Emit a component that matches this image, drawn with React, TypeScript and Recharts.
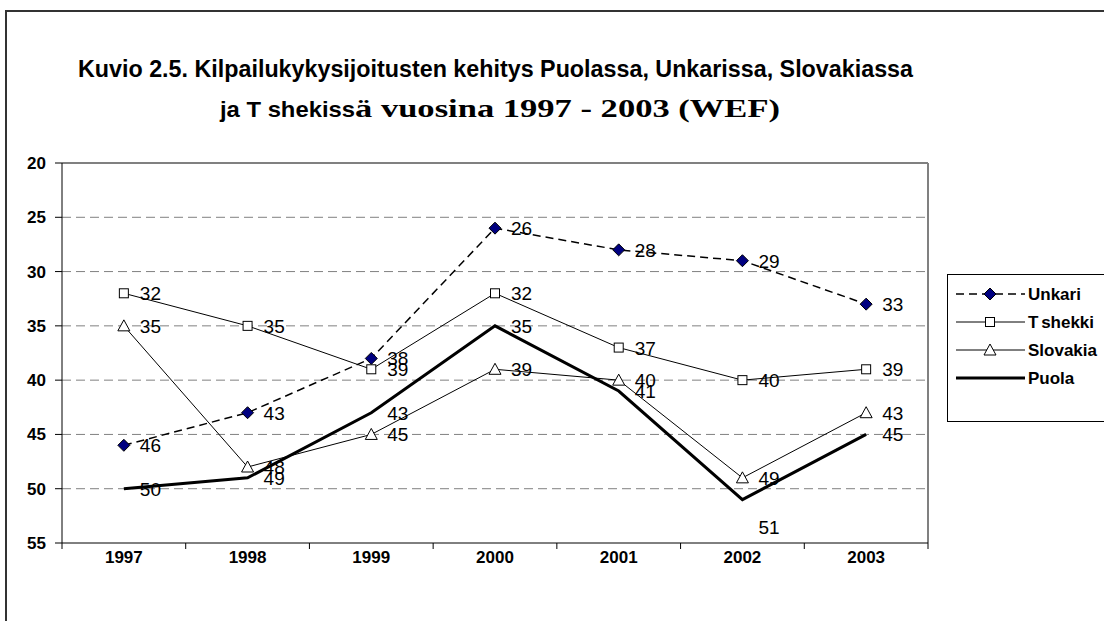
import React from 'react'
import { LineChart, Line, XAxis, YAxis, ReferenceLine, LabelList } from 'recharts'

// WEF competitiveness rankings 1997-2003 (lower is better, so the axis runs top-down)
const YEARS = ['1997', '1998', '1999', '2000', '2001', '2002', '2003']
const UNKARI = [46, 43, 38, 26, 28, 29, 33]
const TSHEKKI = [32, 35, 39, 32, 37, 40, 39]
const SLOVAKIA = [35, 48, 45, 39, 40, 49, 43]
const PUOLA = [50, 49, 43, 35, 41, 51, 45]
const Y_TICKS = [20, 25, 30, 35, 40, 45, 50, 55]
const GRID_VALUES = [25, 30, 35, 40, 45, 50]

const DATA = YEARS.map((year, i) => ({
  x: i + 0.5,
  year,
  unkari: UNKARI[i],
  tshekki: TSHEKKI[i],
  slovakia: SLOVAKIA[i],
  puola: PUOLA[i],
}))

const FONT = '"Liberation Sans", Arial, sans-serif'
const SERIF = '"Liberation Serif", "Times New Roman", serif'
const W = 1104
const H = 621
const MARGIN = { top: 163, right: 176, bottom: 48, left: 0 }
const Y_AXIS_W = 62
const STEP = (W - MARGIN.left - MARGIN.right - Y_AXIS_W) / YEARS.length

const Diamond = ({ cx, cy }: any) => (
  <polygon
    points={`${cx},${cy - 6} ${cx + 6},${cy} ${cx},${cy + 6} ${cx - 6},${cy}`}
    fill="#000080"
    stroke="#000"
    strokeWidth={1}
  />
)
const Square = ({ cx, cy }: any) => (
  <rect x={cx - 4.5} y={cy - 4.5} width={9} height={9} fill="#fff" stroke="#000" strokeWidth={1} />
)
const Triangle = ({ cx, cy }: any) => (
  <polygon
    points={`${cx},${cy - 6} ${cx + 6},${cy + 5} ${cx - 6},${cy + 5}`}
    fill="#fff"
    stroke="#000"
    strokeWidth={1}
  />
)

const makeLabel = (series: string) => (props: any) => {
  const { x, y, value, index } = props
  // Excel pushed the 2002 Puola label below the line
  const dy = series === 'puola' && index === 5 ? 34 : 7
  return (
    <text x={x + 16} y={y + dy} fontFamily={FONT} fontSize={19} fill="#000">
      {value}
    </text>
  )
}

const YearTick = ({ x, y, payload }: any) => {
  if (payload.value >= YEARS.length) return null
  return (
    <text
      x={x + STEP / 2}
      y={y}
      dy="0.71em"
      textAnchor="middle"
      fontFamily={FONT}
      fontWeight="bold"
      fontSize={17}
      fill="#000"
    >
      {YEARS[payload.value]}
    </text>
  )
}

const LEGEND = [
  { name: 'Unkari', dash: '8 5', width: 1.5, marker: 'diamond' },
  { name: 'Tshekki', dash: undefined, width: 1, marker: 'square' },
  { name: 'Slovakia', dash: undefined, width: 1, marker: 'triangle' },
  { name: 'Puola', dash: undefined, width: 3, marker: 'none' },
]

function LegendBox() {
  return (
    <svg
      width={200}
      height={150}
      style={{ position: 'absolute', left: 947, top: 274, overflow: 'visible' }}
    >
      <rect x={0.5} y={0.5} width={220} height={147} fill="#fff" stroke="#000" />
      {LEGEND.map((item, i) => {
        const cy = 20 + i * 28
        return (
          <g key={item.name}>
            <line
              x1={9}
              x2={78}
              y1={cy}
              y2={cy}
              stroke="#000"
              strokeWidth={item.width}
              strokeDasharray={item.dash}
            />
            {item.marker === 'diamond' && <Diamond cx={43} cy={cy} />}
            {item.marker === 'square' && <Square cx={43} cy={cy} />}
            {item.marker === 'triangle' && <Triangle cx={43} cy={cy} />}
            <text x={81} y={cy + 6} fontFamily={FONT} fontWeight="bold" fontSize={17} fill="#000">
              {item.name === 'Tshekki' ? (
                <>
                  T<tspan dx={4}>shekki</tspan>
                </>
              ) : (
                item.name
              )}
            </text>
          </g>
        )
      })}
    </svg>
  )
}

function Title() {
  return (
    <svg width={W} height={130} style={{ position: 'absolute', left: 0, top: 0 }}>
      <text
        x={78}
        y={77}
        fontFamily={FONT}
        fontWeight="bold"
        fontSize={23}
        textLength={835}
        lengthAdjust="spacingAndGlyphs"
        fill="#000"
      >
        Kuvio 2.5. Kilpailukykysijoitusten kehitys Puolassa, Unkarissa, Slovakiassa
      </text>
      <text
        x={220}
        y={117}
        fontFamily={FONT}
        fontWeight="bold"
        fontSize={22}
        textLength={135}
        lengthAdjust="spacingAndGlyphs"
        fill="#000"
      >
        ja T shekiss
      </text>
      <text
        x={355}
        y={117}
        fontFamily={SERIF}
        fontWeight="bold"
        fontSize={26}
        textLength={425}
        lengthAdjust="spacingAndGlyphs"
        fill="#000"
      >
        ä vuosina 1997 - 2003 (WEF)
      </text>
    </svg>
  )
}

export default function App() {
  return (
    <div
      style={{
        position: 'fixed',
        left: 0,
        top: 0,
        width: W,
        height: H,
        overflow: 'hidden',
        background: '#fff',
      }}
    >
      <div
        style={{
          position: 'absolute',
          left: 5,
          top: 10,
          width: 1200,
          height: 700,
          border: '2px solid #333',
        }}
      />
      <Title />
      <div style={{ position: 'absolute', left: 0, top: 0 }}>
        <LineChart width={W} height={H} data={DATA} margin={MARGIN}>
          <XAxis
            type="number"
            dataKey="x"
            domain={[0, 7]}
            ticks={[0, 1, 2, 3, 4, 5, 6, 7]}
            tickSize={6}
            tickMargin={2}
            stroke="#000"
            tick={<YearTick />}
            interval={0}
            allowDataOverflow
          />
          <YAxis
            type="number"
            domain={[20, 55]}
            reversed
            ticks={Y_TICKS}
            width={Y_AXIS_W}
            tickSize={7}
            tickMargin={9}
            stroke="#000"
            interval={0}
            tick={{ fill: '#000', fontFamily: FONT, fontWeight: 'bold', fontSize: 17 }}
          />
          {GRID_VALUES.map((v) => (
            <ReferenceLine key={v} y={v} stroke="#808080" strokeDasharray="9 5" />
          ))}
          <ReferenceLine y={20} stroke="#808080" strokeWidth={2} />
          <ReferenceLine x={7} stroke="#808080" strokeWidth={2} />
          <Line
            dataKey="unkari"
            stroke="#000"
            strokeWidth={1.5}
            strokeDasharray="8 5"
            dot={<Diamond />}
            isAnimationActive={false}
          >
            <LabelList dataKey="unkari" content={makeLabel('unkari')} />
          </Line>
          <Line
            dataKey="tshekki"
            stroke="#000"
            strokeWidth={1}
            dot={<Square />}
            isAnimationActive={false}
          >
            <LabelList dataKey="tshekki" content={makeLabel('tshekki')} />
          </Line>
          <Line
            dataKey="slovakia"
            stroke="#000"
            strokeWidth={1}
            dot={<Triangle />}
            isAnimationActive={false}
          >
            <LabelList dataKey="slovakia" content={makeLabel('slovakia')} />
          </Line>
          <Line
            dataKey="puola"
            stroke="#000"
            strokeWidth={3}
            dot={false}
            isAnimationActive={false}
          >
            <LabelList dataKey="puola" content={makeLabel('puola')} />
          </Line>
        </LineChart>
      </div>
      <LegendBox />
    </div>
  )
}
